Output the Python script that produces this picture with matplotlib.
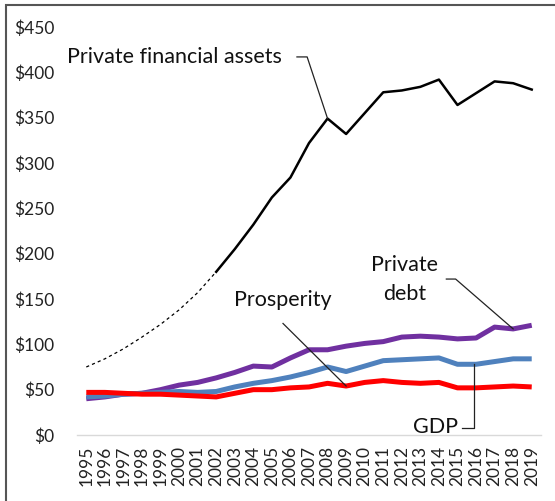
import matplotlib.pyplot as plt
from matplotlib.ticker import FuncFormatter
from matplotlib.patches import Rectangle
import numpy as np

#-------------------------------------------------------------------------
# Data ($ per ...)
#-------------------------------------------------------------------------
years = [str(y) for y in range(1995, 2020)]

assets_est = [75, 84, 95, 108, 122, 138, 157, 180]          # 1995-2002, dashed
assets     = [180, 205, 232, 262, 284, 322, 349, 332, 355,  # 2002-2019, solid
              378, 380, 384, 392, 364, 377, 390, 388, 381]

debt       = [40, 42, 45, 46, 50, 55, 58, 63, 69, 76, 75, 85, 94,
              94, 98, 101, 103, 108, 109, 108, 106, 107, 119, 117, 121]
prosperity = [42, 43, 45, 46, 47, 48, 47, 48, 53, 57, 60, 64, 69,
              75, 70, 76, 82, 83, 84, 85, 78, 78, 81, 84, 84]
gdp        = [47, 47, 46, 45, 45, 44, 43, 42, 46, 50, 50, 52, 53,
              57, 54, 58, 60, 58, 57, 58, 52, 52, 53, 54, 53]

#-------------------------------------------------------------------------
# Style
#-------------------------------------------------------------------------
plt.rcParams['font.family'] = ['Lato', 'DejaVu Sans']
c_debt = '#7030a0'
c_pros = '#4f81bd'
c_gdp  = '#ff0000'
lw     = 3.6

fig = plt.figure(figsize=(5.55, 5.01), dpi=100)
ax = fig.add_axes([77/555, 66/501, 464/555, 408/501])

x = np.arange(len(years))
ax.plot(x[:8], assets_est, c='k', lw=0.9, ls=(0, (2.5, 2.5)))
ax.plot(x[7:], assets, c='k', lw=1.8)
ax.plot(x, debt, c=c_debt, lw=lw, solid_capstyle='butt')
ax.plot(x, prosperity, c=c_pros, lw=lw, solid_capstyle='butt')
ax.plot(x, gdp, c=c_gdp, lw=lw, solid_capstyle='butt')

ax.set_xlim(-0.5, len(years) - 0.5)
ax.set_ylim(0, 450)
ax.set_yticks(range(0, 451, 50))
ax.yaxis.set_major_formatter(FuncFormatter(lambda v, p: '${:.0f}'.format(v)))
ax.set_xticks(x)
ax.set_xticklabels(years, rotation=90)
ax.tick_params(axis='both', length=0, labelsize=12.5, colors='#222222')
ax.tick_params(axis='x', pad=8)
ax.tick_params(axis='y', pad=16)
for s in ['top', 'right', 'left']:
    ax.spines[s].set_visible(False)
ax.spines['bottom'].set_color('#d9d9d9')
ax.spines['bottom'].set_linewidth(1.0)

#-------------------------------------------------------------------------
# Labels with leader lines
#-------------------------------------------------------------------------
tk = dict(fontsize=15.5, color='#111111')
ln = dict(c='#222222', lw=0.9, clip_on=False)

ax.text(-1.05, 417, 'Private financial assets', ha='left', va='center', **tk)
ax.plot([11.35, 11.9, 13], [417, 417, assets[6]], **ln)

ax.text(17.15, 187, 'Private', ha='center', va='center', **tk)
ax.text(17.15, 156, 'debt', ha='center', va='center', **tk)
ax.plot([19.4, 19.9, 23], [172, 172, debt[23]], **ln)

ax.text(10.6, 149, 'Prosperity', ha='center', va='center', **tk)
ax.plot([10.6, 14], [123, gdp[14]], **ln)

ax.text(18.8, 9, 'GDP', ha='center', va='center', **tk)
ax.plot([20.25, 20.9, 20.9], [8, 8, prosperity[21]], **ln)

# outer frame
fig.patches.append(Rectangle((5.5/555, -0.01), 1.1, 1.0 - 5.5/501 + 0.01,
                             transform=fig.transFigure, fill=False,
                             ec='#555555', lw=1.5))

fig.savefig('out.png', dpi=100)
